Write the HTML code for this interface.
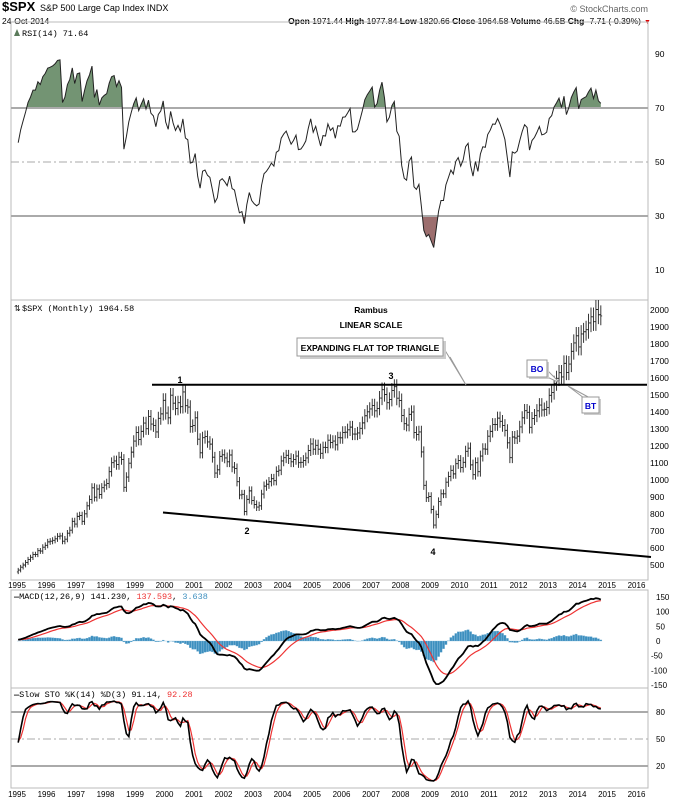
<!DOCTYPE html>
<html><head><meta charset="utf-8"><style>
body{margin:0;background:#fff}
svg{display:block;font-family:"Liberation Sans",sans-serif}
</style></head><body>
<svg id="chart" width="674" height="800" viewBox="0 0 674 800">
<rect x="0" y="0" width="674" height="800" fill="#fff"/>
<g>
<text x="2" y="11" font-size="13" font-weight="bold">$SPX</text>
<text x="40" y="11" font-size="9">S&amp;P 500 Large Cap Index INDX</text>
<text x="2" y="24" font-size="8.5">24-Oct-2014</text>
<text x="648" y="12" font-size="9" fill="#666" text-anchor="end">© StockCharts.com</text>
<text x="641" y="24" font-size="8.5" text-anchor="end"><tspan font-weight="bold">Open</tspan> 1971.44 <tspan font-weight="bold">High</tspan> 1977.84 <tspan font-weight="bold">Low</tspan> 1820.66 <tspan font-weight="bold">Close</tspan> 1964.58 <tspan font-weight="bold">Volume</tspan> 46.5B <tspan font-weight="bold">Chg</tspan> -7.71 (-0.39%)</text>
<text x="644" y="24" font-size="7" fill="#d00">▼</text>
</g>
<g id="panels"></g>
</svg>
<script>
// ---- DATA: monthly closes S&P 500 ----
const warmupCloses = [439,443,452,440,450,451,448,464,459,468,462,466, 482,467,446,451,457,444,458,475,463,472,454,459];
const closes = [
470,487,500,515,533,545,562,562,584,582,605,616,
636,640,645,654,669,671,640,652,687,705,757,741,
786,791,757,801,848,885,954,899,947,915,955,970,
980,1049,1102,1112,1091,1134,1121,957,1017,1099,1164,1229,
1280,1238,1286,1335,1302,1373,1329,1320,1283,1363,1389,1469,
1394,1366,1499,1452,1421,1455,1431,1518,1437,1429,1315,1320,
1366,1240,1160,1249,1256,1224,1211,1134,1041,1060,1139,1148,
1130,1107,1147,1076,1067,990,912,916,815,886,936,880,
856,841,848,917,964,975,990,1008,996,1051,1058,1112,
1131,1145,1126,1107,1121,1141,1102,1104,1115,1130,1174,1212,
1181,1204,1181,1157,1192,1191,1234,1220,1229,1207,1249,1248,
1280,1281,1295,1311,1270,1270,1277,1304,1336,1378,1401,1418,
1438,1407,1421,1482,1531,1503,1455,1474,1527,1549,1481,1468,
1379,1331,1323,1386,1400,1280,1267,1283,1165,969,896,903,
826,735,798,873,919,919,987,1021,1057,1036,1096,1115,
1074,1104,1169,1187,1089,1031,1102,1049,1141,1183,1181,1258,
1286,1327,1326,1364,1345,1321,1292,1219,1131,1253,1247,1258,
1312,1366,1408,1398,1310,1362,1379,1407,1441,1412,1416,1426,
1498,1515,1569,1598,1631,1606,1686,1633,1682,1757,1806,1848,
1783,1859,1872,1884,1924,1960,1931,2003,1972,1965];
const yearLabels = [1995,1996,1997,1998,1999,2000,2001,2002,2003,2004,2005,2006,2007,2008,2009,2010,2011,2012,2013,2014,2015,2016];
const priceTicks = [500,600,700,800,900,1000,1100,1200,1300,1400,1500,1600,1700,1800,1900,2000];
const rsiTicks = [10,30,50,70,90];
const macdTicks = [-150,-100,-50,0,50,100,150];
const stoTicks = [20,50,80];
const resistanceLevel = 1560;

// ---- axes ----
const NS="http://www.w3.org/2000/svg";
const L=11,R=648;
const xT=t=>17+(t-1995)*29.5;
const xI=i=>xT(1995+i/12)+1.2;
const yP=v=>565-(v-500)*0.17;
const yR=v=>108-(v-70)*2.7;
const yM=v=>641-v*0.293;
const yS=v=>784-v*0.9;
const root=document.getElementById('panels');
function el(tag,attrs,parent){const e=document.createElementNS(NS,tag);for(const k in attrs)e.setAttribute(k,attrs[k]);(parent||root).appendChild(e);return e;}
function txt(x,y,s,attrs,parent){const e=el('text',Object.assign({x:x,y:y,'font-size':8.5},attrs||{}),parent);e.textContent=s;return e;}

// ---- indicators ----
const all=warmupCloses.concat(closes);
const W=warmupCloses.length;
const N=closes.length;
const hi=[],lo=[],op=[];
for(let i=0;i<all.length;i++){const o=i?all[i-1]:all[i];op.push(o);hi.push(Math.max(o,all[i])*1.028);lo.push(Math.min(o,all[i])*0.972);}
const rsi=[];let ag=0,al=0;
for(let i=1;i<all.length;i++){const d=all[i]-all[i-1];const g=Math.max(d,0),l=Math.max(-d,0);
 if(i<=14){ag+=g/14;al+=l/14;}else{ag=(ag*13+g)/14;al=(al*13+l)/14;}
 rsi[i]=al===0?100:100-100/(1+ag/al);}
function ema(arr,n){const k=2/(n+1);const out=[];let e=arr[0];for(let i=0;i<arr.length;i++){e=i?arr[i]*k+e*(1-k):arr[i];out.push(e);}return out;}
const e12=ema(all,12),e26=ema(all,26);
const macd=all.map((v,i)=>e12[i]-e26[i]);
const sig=ema(macd,9);
const fk=[];for(let i=0;i<all.length;i++){const s=Math.max(0,i-13);let H=-1e9,Lo=1e9;for(let j=s;j<=i;j++){H=Math.max(H,hi[j]);Lo=Math.min(Lo,lo[j]);}fk.push(H===Lo?50:(all[i]-Lo)/(H-Lo)*100);}
const sma3=a=>a.map((v,i)=>i<2?v:(a[i]+a[i-1]+a[i-2])/3);
const sk=sma3(fk),sd=sma3(sk);

// ---- panels frames ----
function frame(y1,y2,name){const r=el('rect',{x:L,y:y1,width:R-L,height:y2-y1,fill:'none',stroke:'#bbb','stroke-width':1});

}
frame(22,300,'rsi-panel');frame(300,580,'price-panel');frame(590,688,'macd-panel');frame(688,788,'stochastic-panel');

// ---- RSI panel ----
const rsiG=el('g',{});


const defs=el('defs',{});
const c1=el('clipPath',{id:'above70'},defs);el('rect',{x:L,y:0,width:R-L,height:yR(70)},c1);
const c2=el('clipPath',{id:'below30'},defs);el('rect',{x:L,y:yR(30),width:R-L,height:300-yR(30)},c2);
let pts=[];for(let i=0;i<N;i++)pts.push(xI(i).toFixed(1)+','+yR(rsi[i+W]).toFixed(1));
const areaTop=el('path',{d:'M'+xI(0)+','+yR(70)+' L'+pts.join(' L')+' L'+xI(N-1)+','+yR(70)+'Z',fill:'#739473','clip-path':'url(#above70)'},rsiG);


const areaBot=el('path',{d:'M'+xI(0)+','+yR(30)+' L'+pts.join(' L')+' L'+xI(N-1)+','+yR(30)+'Z',fill:'#9c6e6e','clip-path':'url(#below30)'},rsiG);


[70,30].forEach(v=>{const ln=el('line',{x1:L,x2:R,y1:yR(v),y2:yR(v),stroke:'#aaa','stroke-width':2},rsiG);

});
const r50=el('line',{x1:L,x2:R,y1:yR(50),y2:yR(50),stroke:'#aaa','stroke-width':1,'stroke-dasharray':'8,3,2,3'},rsiG);


const rl=el('polyline',{points:pts.join(' '),fill:'none',stroke:'#222','stroke-width':1},rsiG);


rsiTicks.forEach(v=>{const t=txt(655,yR(v)+3,String(v),{'font-size':8.5},rsiG);

});
const rlab=txt(22,36,'RSI(14) 71.64',{'font-size':8.5,'font-family':'Liberation Mono,monospace'},rsiG);


el('path',{d:'M14,36 L17,29 L20,36Z',fill:'#5a7a5a'},rsiG);

// ---- Price panel ----
const pG=el('g',{});


for(let i=0;i<N;i++){const k=i+W,x=xI(i);
 const b=el('path',{d:`M${x},${yP(hi[k])} V${yP(lo[k])} M${x-1.3},${yP(op[k])} H${x} M${x},${yP(all[k])} H${x+1.3}`,stroke:'#222','stroke-width':0.9,fill:'none'},pG);
 
 }
priceTicks.forEach(v=>{const t=txt(650,yP(v)+3,String(v),{'font-size':8.5});

});
const plab=txt(22,311,'$SPX (Monthly) 1964.58',{'font-size':8.5,'font-family':'Liberation Mono,monospace'});


txt(14,311,'⇅',{'font-size':8});
const rt=el('line',{x1:152,x2:647,y1:yP(resistanceLevel),y2:yP(resistanceLevel),stroke:'#000','stroke-width':2});


const st=el('line',{x1:163,y1:512.5,x2:651,y2:557,stroke:'#000','stroke-width':2});


[['1',180,383],['2',247,534],['3',391,379],['4',433,555]].forEach(a=>{const t=txt(a[1],a[2],a[0],{'font-size':9,'font-weight':'bold','text-anchor':'middle'});

});
const t1=txt(371,313,'Rambus',{'font-size':8.5,'font-weight':'bold','text-anchor':'middle'});


const t2=txt(371,328,'LINEAR SCALE',{'font-size':8.5,'font-weight':'bold','text-anchor':'middle'});


const an=el('g',{});


el('path',{d:'M443,347 L466,385 L450,357',fill:'#fff',stroke:'#999','stroke-width':1},an);
el('rect',{x:300,y:341,width:146,height:18,fill:'#ccc'},an);
el('rect',{x:297,y:338,width:146,height:18,fill:'#fff',stroke:'#999'},an);
txt(370,351,'EXPANDING FLAT TOP TRIANGLE',{'font-size':8.5,'font-weight':'bold','text-anchor':'middle'},an);
const bo=el('g',{});


el('path',{d:'M547,370 L560,383 L545,376',fill:'#fff',stroke:'#999'},bo);
el('rect',{x:529,y:362,width:20,height:17,fill:'#ccc'},bo);
el('rect',{x:527,y:360,width:20,height:17,fill:'#fff',stroke:'#999'},bo);
txt(537,372,'BO',{'font-size':8.5,'font-weight':'bold',fill:'#00c','text-anchor':'middle'},bo);
const bt=el('g',{});


el('path',{d:'M584,398 L568,386 L590,398',fill:'#fff',stroke:'#999'},bt);
el('rect',{x:584,y:399,width:17,height:16,fill:'#ccc'},bt);
el('rect',{x:582,y:397,width:17,height:16,fill:'#fff',stroke:'#999'},bt);
txt(590.5,409,'BT',{'font-size':8.5,'font-weight':'bold',fill:'#00c','text-anchor':'middle'},bt);

// ---- year axes ----
[588,797].forEach((yy,ai)=>{yearLabels.forEach(yr=>{const t=txt(xT(yr),yy,String(yr),{'font-size':8,'text-anchor':'middle'});

});});

// ---- MACD ----
const mG=el('g',{});


for(let i=0;i<N;i++){const k=i+W,h=macd[k]-sig[k];
 const b=el('rect',{x:xI(i)-1.1,y:Math.min(yM(0),yM(h)),width:2.2,height:Math.abs(yM(h)-yM(0)),fill:'#3d8fbf',stroke:'#7ab4d6','stroke-width':0.3},mG);
 
 }
let sp=[],mp=[];for(let i=0;i<N;i++){sp.push(xI(i)+','+yM(sig[i+W]).toFixed(1));mp.push(xI(i)+','+yM(macd[i+W]).toFixed(1));}
const sl=el('polyline',{points:sp.join(' '),fill:'none',stroke:'#e33','stroke-width':1.2},mG);


const ml=el('polyline',{points:mp.join(' '),fill:'none',stroke:'#000','stroke-width':1.8},mG);


macdTicks.forEach(v=>{const t=txt(v<0?651:656,yM(v)+3,String(v),{'font-size':8});

});
const mlab=el('text',{x:14,y:599,'font-size':8.5,'font-family':'Liberation Mono,monospace'});
mlab.innerHTML='<tspan font-weight="bold">—</tspan>MACD(12,26,9) 141.230, <tspan fill="#e33">137.593</tspan>, <tspan fill="#3d8fbf">3.638</tspan>';



// ---- Stochastic ----
const sG=el('g',{});


[80,20].forEach(v=>{const ln=el('line',{x1:L,x2:R,y1:yS(v),y2:yS(v),stroke:'#aaa','stroke-width':2},sG);

});
const s50=el('line',{x1:L,x2:R,y1:yS(50),y2:yS(50),stroke:'#aaa','stroke-width':1,'stroke-dasharray':'8,3,2,3'},sG);


let dp=[],kp=[];for(let i=0;i<N;i++){dp.push(xI(i)+','+yS(sd[i+W]).toFixed(1));kp.push(xI(i)+','+yS(sk[i+W]).toFixed(1));}
const dl=el('polyline',{points:dp.join(' '),fill:'none',stroke:'#e33','stroke-width':1.2},sG);


const kl=el('polyline',{points:kp.join(' '),fill:'none',stroke:'#000','stroke-width':1.6},sG);


stoTicks.forEach(v=>{const t=txt(656,yS(v)+3,String(v),{'font-size':8});

});
const slab=el('text',{x:14,y:697,'font-size':8.5,'font-family':'Liberation Mono,monospace'});
slab.innerHTML='<tspan font-weight="bold">—</tspan>Slow STO %K(14) %D(3) 91.14, <tspan fill="#e33">92.28</tspan>';


</script>
</body></html>
